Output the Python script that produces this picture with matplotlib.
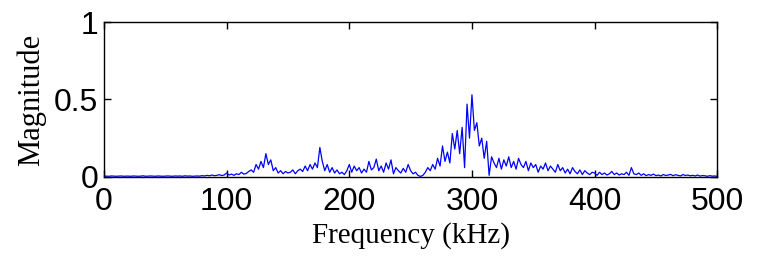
import numpy as np
import matplotlib.pyplot as plt

# spectrum magnitude, one value every 2 kHz (0..500)
freq_khz = np.arange(0, 502, 2)
magnitude = np.array([
    0.004, 0.005, 0.004, 0.006, 0.005, 0.004, 0.005, 0.006, 0.004, 0.005,
    0.005, 0.004, 0.006, 0.005, 0.004, 0.005, 0.007, 0.004, 0.005, 0.006,
    0.005, 0.004, 0.006, 0.005, 0.004, 0.005, 0.006, 0.005, 0.004, 0.006,
    0.005, 0.006, 0.004, 0.007, 0.005, 0.006, 0.004, 0.005, 0.006, 0.005,
    0.008, 0.006, 0.010, 0.007, 0.012, 0.008, 0.010, 0.014, 0.009, 0.012,
    0.025, 0.012, 0.018, 0.010, 0.020, 0.015, 0.030, 0.018, 0.022, 0.035,
    0.045, 0.030, 0.080, 0.050, 0.100, 0.060, 0.150, 0.080, 0.110, 0.040,
    0.060, 0.025, 0.040, 0.020, 0.035, 0.025, 0.030, 0.045, 0.020, 0.040,
    0.050, 0.035, 0.070, 0.040, 0.080, 0.050, 0.090, 0.060, 0.190, 0.100,
    0.040, 0.080, 0.030, 0.060, 0.025, 0.045, 0.020, 0.030, 0.015, 0.040,
    0.080, 0.030, 0.070, 0.040, 0.060, 0.025, 0.050, 0.030, 0.100, 0.045,
    0.060, 0.115, 0.040, 0.070, 0.030, 0.090, 0.050, 0.110, 0.020, 0.060,
    0.040, 0.025, 0.055, 0.030, 0.080, 0.040, 0.020, 0.030, 0.010, 0.003,
    0.010, 0.030, 0.060, 0.040, 0.080, 0.050, 0.120, 0.070, 0.200, 0.100,
    0.160, 0.090, 0.280, 0.180, 0.300, 0.150, 0.320, 0.060, 0.470, 0.250,
    0.530, 0.300, 0.350, 0.200, 0.250, 0.120, 0.230, 0.010, 0.130, 0.090,
    0.060, 0.120, 0.050, 0.110, 0.070, 0.130, 0.060, 0.100, 0.050, 0.120,
    0.080, 0.060, 0.100, 0.040, 0.090, 0.060, 0.080, 0.030, 0.070, 0.050,
    0.090, 0.040, 0.070, 0.050, 0.030, 0.080, 0.040, 0.060, 0.025, 0.050,
    0.020, 0.060, 0.035, 0.020, 0.045, 0.015, 0.040, 0.025, 0.015, 0.030,
    0.025, 0.010, 0.030, 0.015, 0.025, 0.012, 0.020, 0.035, 0.015, 0.025,
    0.012, 0.020, 0.015, 0.030, 0.010, 0.060, 0.020, 0.015, 0.025, 0.010,
    0.020, 0.008, 0.015, 0.010, 0.018, 0.008, 0.012, 0.006, 0.015, 0.009,
    0.012, 0.016, 0.008, 0.014, 0.010, 0.006, 0.015, 0.009, 0.012, 0.007,
    0.010, 0.006, 0.012, 0.005, 0.009, 0.007, 0.004, 0.008, 0.005, 0.006,
    0.004,
])
xticks = [0, 100, 200, 300, 400, 500]
yticks = [0, 0.5, 1]
ytick_labels = ['0', '0.5', '1']

fig = plt.figure(figsize=(7.59, 2.56), dpi=100)
ax = fig.add_axes([0.137, 0.309, 0.808, 0.605])
ax.plot(freq_khz, magnitude, color='#0000ff', lw=0.9)
ax.set_xlim(0, 500)
ax.set_ylim(0, 1)
ax.set_xticks(xticks)
ax.set_yticks(yticks)
ax.set_yticklabels(ytick_labels)
ax.tick_params(direction='in', top=True, right=True, length=5, width=1, pad=4,
               labelsize=23)
ax.tick_params(axis='x', pad=7)
for lab in ax.get_xticklabels() + ax.get_yticklabels():
    lab.set_family(['Liberation Sans', 'DejaVu Sans'])
for s in ax.spines.values():
    s.set_linewidth(1)
ax.set_xlabel('Frequency (kHz)', family='Liberation Serif', fontsize=21, labelpad=4)
ax.set_ylabel('Magnitude', family='Liberation Serif', fontsize=22, labelpad=6)
fig.savefig('out.png', dpi=100)
